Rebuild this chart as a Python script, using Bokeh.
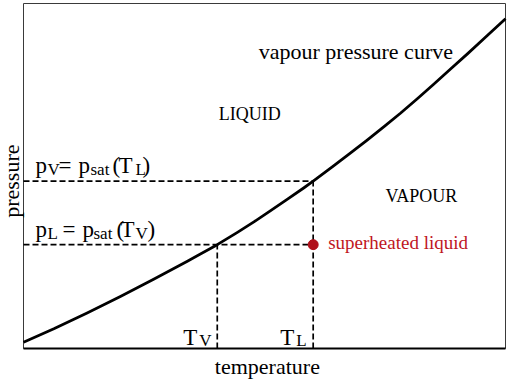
import math
from bokeh.plotting import figure
from bokeh.models import Range1d, Label, ColumnDataSource
from bokeh.core.properties import value
from bokeh.embed import file_html
from bokeh.resources import INLINE

# ---- data (axes are relative units 0..100) ----
temperature = [0, 6.3, 13.2, 20.1, 27.0, 34.0, 40.2, 44.3, 47.8, 51.2, 54.7, 58.2, 60.1,
               64.4, 67.8, 71.3, 74.8, 78.2, 81.7, 85.1, 88.6, 92.1, 95.5, 100]
pressure = [1.8, 5.7, 10.3, 15.1, 20.1, 25.3, 30.1, 33.6, 36.7, 39.9, 43.2, 46.6, 48.5,
            53.0, 56.6, 60.4, 64.3, 68.2, 72.4, 76.6, 81.0, 85.4, 89.8, 95.6]
T_V = 40.2
T_L = 60.1
p_L = 30.1
p_V = 48.5

# ---- layout (pixels) ----
W, H = 513, 384
BOX_L, BOX_R, BOX_T, BOX_B = 23, 505, 3, 348
sx = (BOX_R - BOX_L) / 100.0
sy = (BOX_B - BOX_T) / 100.0

FONT = "Liberation Serif"

p = figure(width=W, height=H, output_backend="svg", toolbar_location=None,
           x_range=Range1d(-BOX_L / sx, 100 + (W - BOX_R) / sx),
           y_range=Range1d(-(H - BOX_B) / sy, 100 + BOX_T / sy),
           x_axis_type=None, y_axis_type=None,
           min_border=0, outline_line_color=None,
           background_fill_color="white", border_fill_color="white")
p.grid.visible = False

# plot box
p.quad(left=[0], right=[100], bottom=[0], top=[100], fill_color=None,
       line_color="#3a3a3a", line_width=1)
p.segment(x0=[0], y0=[0], x1=[100], y1=[0], line_color="black", line_width=2)

# vapour pressure curve
p.line(temperature, pressure, line_color="black", line_width=2.8, line_join="round")

# dashed construction lines
p.segment(x0=[0, 0, T_V, T_L], y0=[p_V, p_L, 0, 0],
          x1=[T_L, T_L, T_V, T_L], y1=[p_V, p_L, p_L, p_V],
          line_color="black", line_width=1.7, line_dash="6 3")

# superheated liquid point
p.scatter([T_L], [p_L], size=10, color="#b0101a")


def pieces(anchor_x, anchor_y, items, size):
    src = ColumnDataSource(dict(
        x=[anchor_x] * len(items), y=[anchor_y] * len(items),
        text=[t for t, _, _ in items],
        xo=[a for _, a, _ in items], yo=[b for _, _, b in items]))
    p.text(x="x", y="y", text="text", x_offset="xo", y_offset="yo", source=src,
           text_font=value(FONT), text_font_size=size, text_color="black",
           text_baseline="alphabetic", text_align="left")


MAIN, SUB = "23px", "17px"
# p_V = p_sat(T_L)
pieces(0, p_V, [("p", 12, -16), ("=", 35, -16), ("p", 55, -16), ("(", 89, -16), ("T", 95, -16), (")", 119, -16)], MAIN)
pieces(0, p_V, [("V", 24, -12), ("sat", 67, -12), ("L", 112, -12)], SUB)
# p_L = p_sat(T_V)
pieces(0, p_L, [("p", 12, -15), ("=", 39, -15), ("p", 59, -15), ("(", 93, -15), ("T", 97, -15), (")", 124, -15)], MAIN)
pieces(0, p_L, [("L", 24, -11), ("sat", 70, -11), ("V", 112, -11)], SUB)
# T_V and T_L
pieces(T_V, 0, [("T", -34, -11)], MAIN)
pieces(T_V, 0, [("V", -18, -8)], SUB)
pieces(T_L, 0, [("T", -33, -11)], MAIN)
pieces(T_L, 0, [("L", -17, -8)], SUB)


def lab(x, y, text, size, color="black", **kw):
    p.add_layout(Label(x=x, y=y, text=text, text_font=FONT, text_font_size=size,
                       text_color=color, text_baseline="alphabetic", **kw))


lab(48.8, 86.1, "vapour pressure curve", "22px")
lab(40.5, 68.0, "LIQUID", "18px")
lab(75.1, 44.2, "VAPOUR", "18px")
lab(T_L, p_L, "superheated liquid", "19px", color="#c0161e", x_offset=15, y_offset=2)

# axis titles
lab(50.6, -5.3, "temperature", "22px", text_align="center")
lab(-2.4, 48.5, "pressure", "22px", text_align="center", angle=math.pi / 2)

open("out.html", "w").write(file_html(p, INLINE))
